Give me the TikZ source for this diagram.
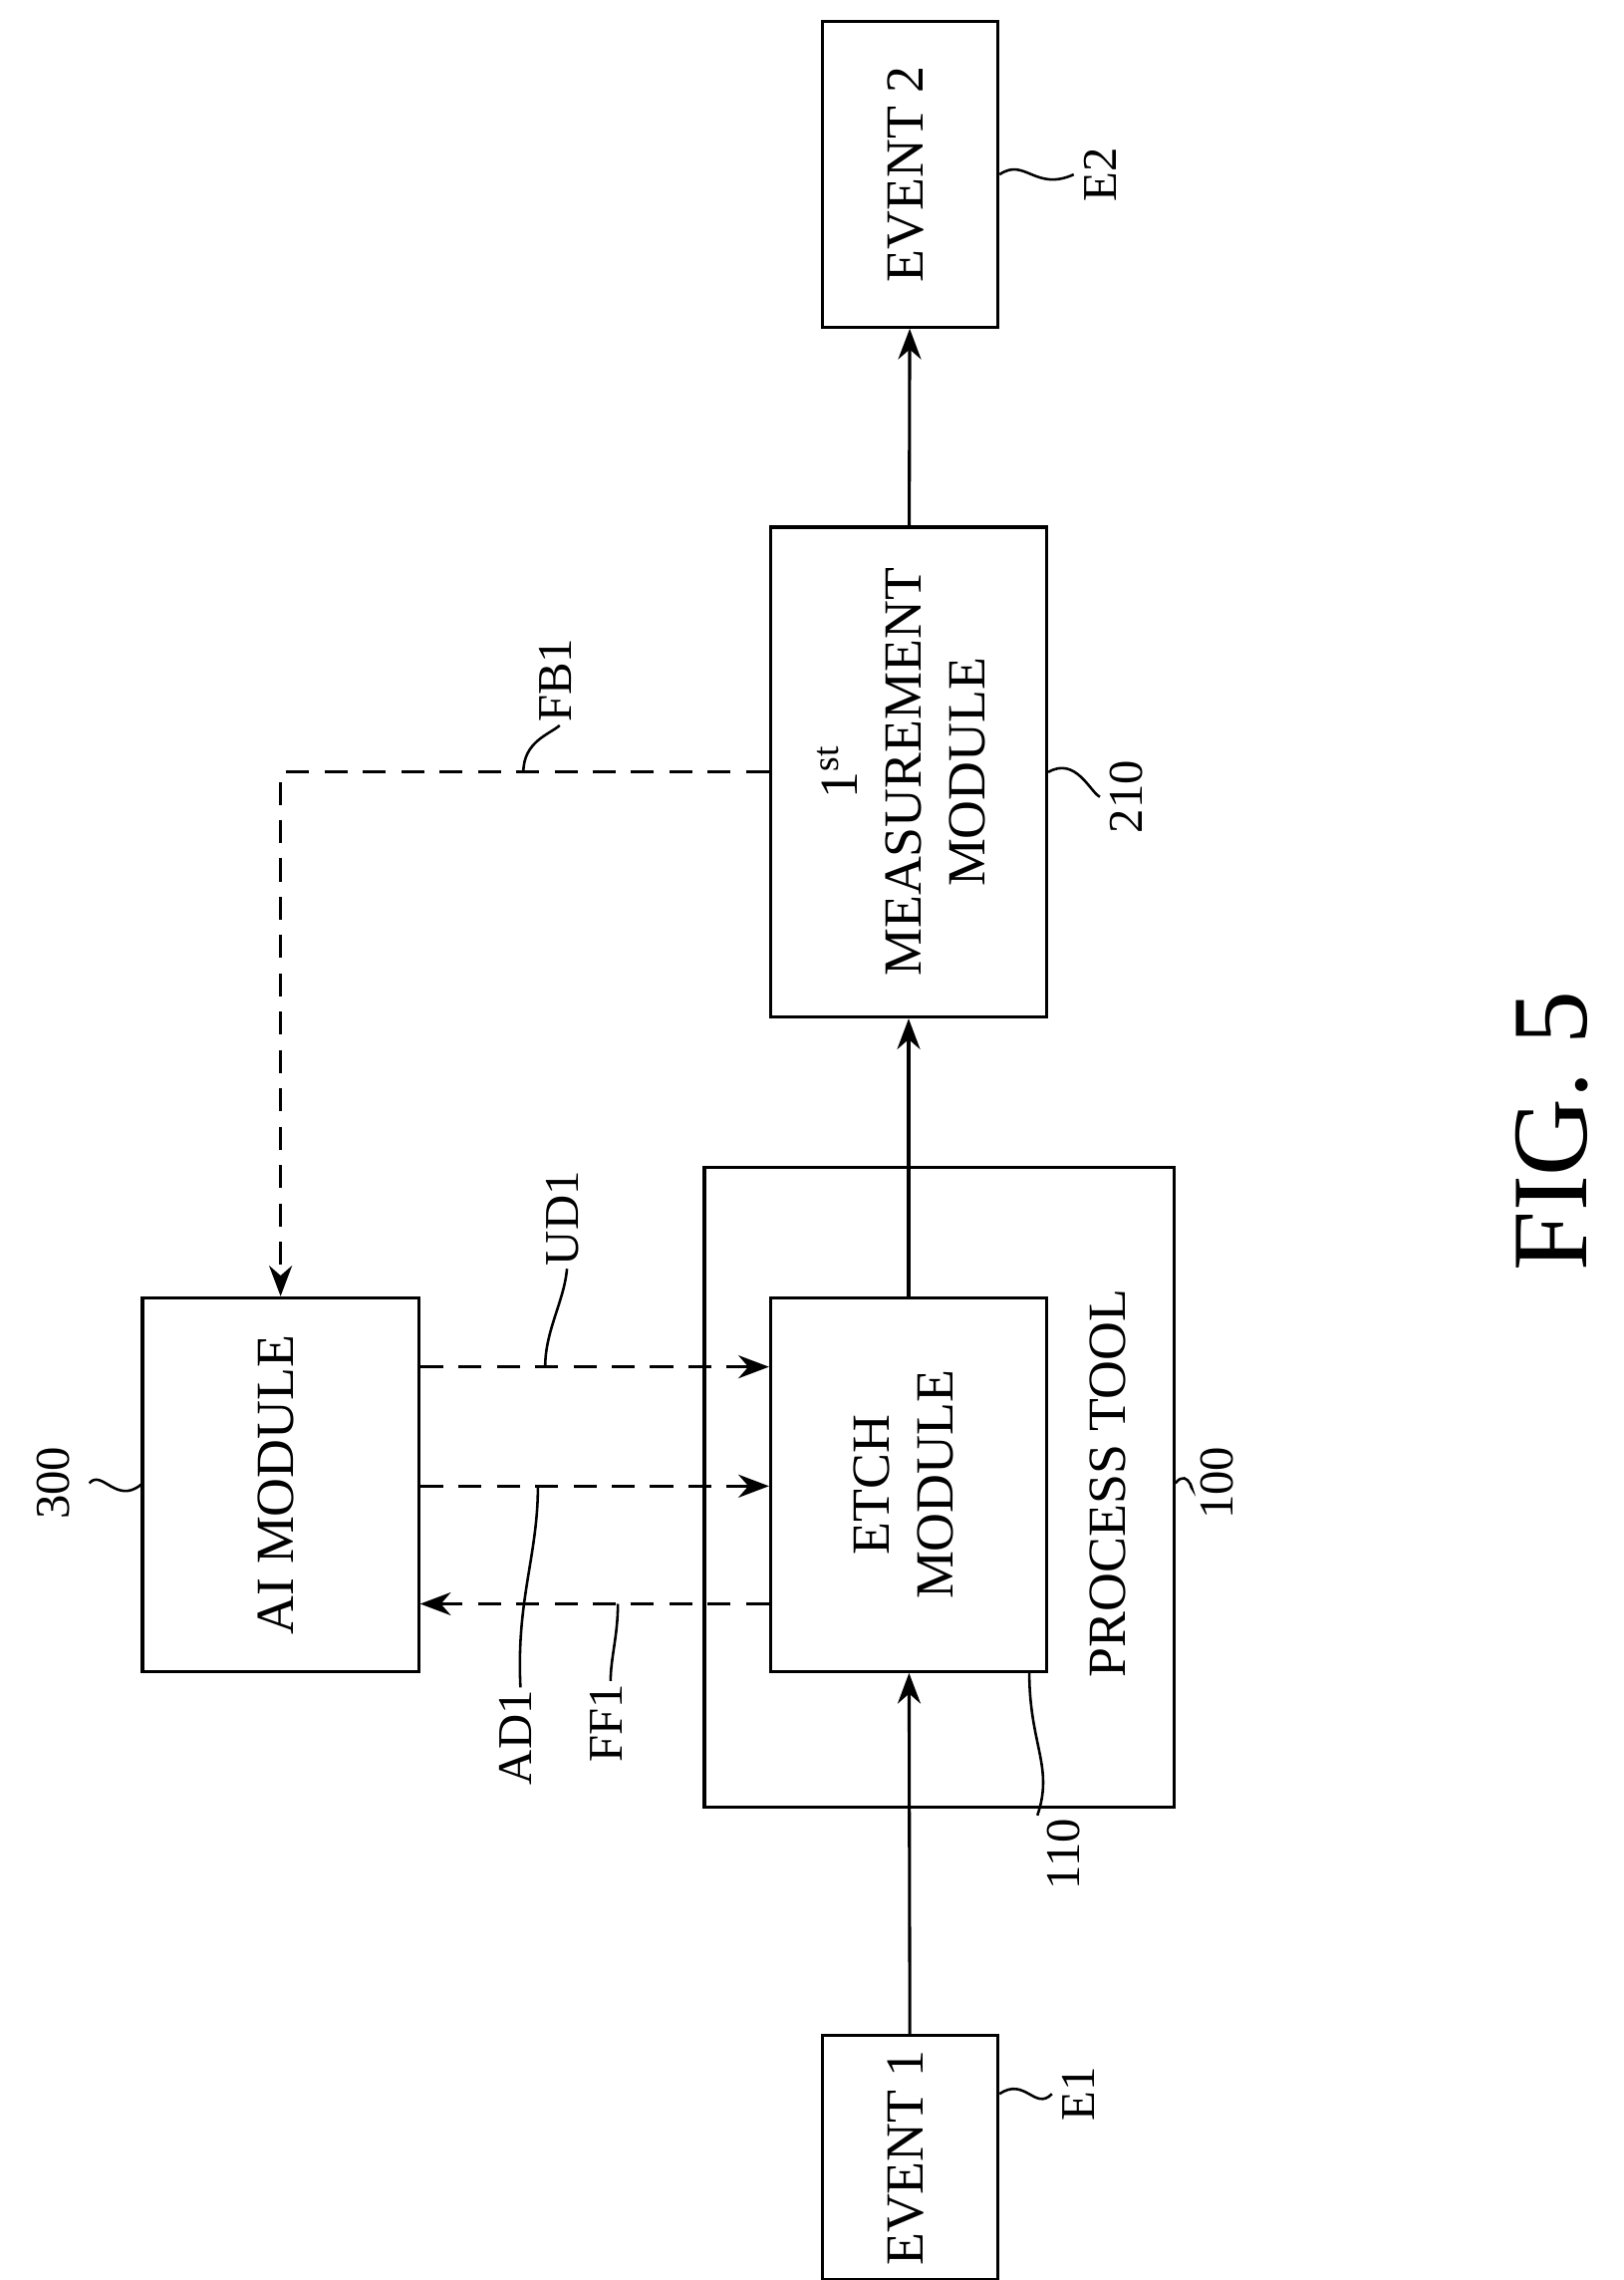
\documentclass[tikz,border=0pt]{standalone}
\usepackage{fontspec}
\setmainfont{Liberation Serif}
\usetikzlibrary{arrows.meta,positioning,calc}
\newcommand{\rt}[1]{\rotatebox{90}{\begin{tabular}{@{}c@{}}#1\end{tabular}}}
\begin{document}
\begin{tikzpicture}[x=0.02cm,y=-0.02cm,
			box/.style={rectangle, draw, line width=1.2pt, inner sep=0pt, font=\fontsize{21}{25}\selectfont},
			link/.style={-{Stealth[length=12pt,width=9pt]}, line width=1.2pt},
			dlink/.style={link, dashed, dash pattern=on 9pt off 6pt},
			lbl/.style={font=\fontsize{19}{22}\selectfont, inner sep=1pt},
			lead/.style={line width=1pt}
			]
			\useasboundingbox (0,0) rectangle (1117,1568);
			\node[box, minimum width=2.42cm, minimum height=3.36cm] (E1) at (626,1484) {\rt{EVENT 1}};
			\node[box, minimum width=2.42cm, minimum height=4.2cm] (E2) at (626,120) {\rt{EVENT 2}};
			\node[box, minimum width=6.46cm, minimum height=8.8cm] (PT) at (646,1023) {};
			\node[box, minimum width=3.8cm, minimum height=5.14cm] (ETCH) at (625,1021) {\rt{ETCH\\MODULE}};
			\node[box, minimum width=3.8cm, minimum height=6.74cm] (MEAS) at (625,531) {\rt{1\textsuperscript{st}\\MEASUREMENT\\MODULE}};
			\node[box, minimum width=3.8cm, minimum height=5.14cm] (AI) at (193,1021) {\rt{AI MODULE}};
			\node[box, draw=none] (PTtxt) at (765,1020) {\rt{PROCESS TOOL}};
			
			\draw[link] (E1) -- (ETCH);
			\draw[link] (ETCH) -- (MEAS);
			\draw[link] (MEAS) -- (E2);
			
			\coordinate (ud) at (0,940);
			\coordinate (ad) at (0,1022);
			\coordinate (ff) at (0,1103);
			\coordinate (fb) at (193,531);
			\draw[dlink] (MEAS.west) -- (fb) -- (AI.north);
			\draw[dlink] (AI.east |- ud) -- (ETCH.west |- ud);
			\draw[dlink] (AI.east |- ad) -- (ETCH.west |- ad);
			\draw[dlink] (ETCH.west |- ff) -- (AI.east |- ff);
			
			% reference labels
			\node[lbl] (lE1) at (745,1440) {\rt{E1}};
			\node[lbl] (lE2) at (760,120) {\rt{E2}};
			\node[lbl] (l300) at (40,1020) {\rt{300}};
			\node[lbl] (l100) at (840,1020) {\rt{100}};
			\node[lbl] (l110) at (735,1275) {\rt{110}};
			\node[lbl] (l210) at (778,548) {\rt{210}};
			\node[lbl] (lFB1) at (385,468) {\rt{FB1}};
			\node[lbl] (lUD1) at (390,838) {\rt{UD1}};
			\node[lbl] (lAD1) at (358,1195) {\rt{AD1}};
			\node[lbl] (lFF1) at (420,1185) {\rt{FF1}};
			
			\draw[lead] (E1.east |- 0,1440) .. controls (705,1428) and (712,1452) .. (lE1.west);
			\draw[lead] (E2.east) .. controls (705,108) and (712,132) .. (lE2.west);
			\draw[lead] (AI.west) .. controls (80,1035) and (70,1010) .. (l300.east);
			\draw[lead] (PT.east |- 0,1020) .. controls (818,1008) and (822,1032) .. (l100.west);
			\draw[lead] (708,1150) .. controls (708,1200) and (725,1215) .. (l110.north west);
			\draw[lead] (MEAS.east |- 0,531) .. controls (740,520) and (750,545) .. (l210.west);
			\draw[lead] (360,531) .. controls (360,510) and (378,505) .. (lFB1.south);
			\draw[lead] (375,940) .. controls (375,915) and (388,895) .. (lUD1.south);
			\draw[lead] (370,1022) .. controls (370,1070) and (355,1100) .. (lAD1.north);
			\draw[lead] (425,1103) .. controls (425,1125) and (420,1140) .. (lFF1.north);
			
			\node[font=\fontsize{42}{46}\selectfont] (fig) at (1075,778) {\rt{FIG. 5}};
		\end{tikzpicture}
\end{document}
